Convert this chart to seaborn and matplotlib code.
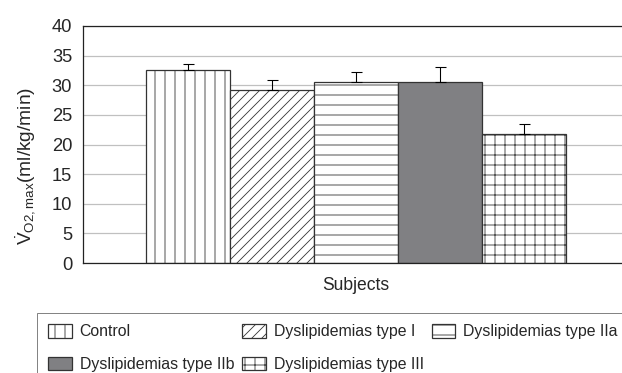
import numpy as np
import pandas as pd
import matplotlib.pyplot as plt
import seaborn as sns

# values
groups = ['Control', 'Dyslipidemias type I', 'Dyslipidemias type IIa',
          'Dyslipidemias type IIb', 'Dyslipidemias type III']
vo2_mean = [32.6, 29.2, 30.5, 30.5, 21.7]
vo2_sd = [1.0, 1.7, 1.8, 2.6, 1.7]
yticks = [0, 5, 10, 15, 20, 25, 30, 35, 40]

hatches = ['|', '//', '-', '', '+']
fills = ['white', 'white', 'white', '#808083', 'white']

df = pd.DataFrame({'Subjects': ['Subjects'] * len(groups),
                   'Group': groups, 'VO2': vo2_mean})

sns.set_style('white')
plt.rcParams['font.family'] = ['Liberation Sans', 'DejaVu Sans']
plt.rcParams['mathtext.fontset'] = 'custom'
plt.rcParams['mathtext.rm'] = 'Liberation Sans'
plt.rcParams['mathtext.it'] = 'Liberation Sans:italic'
plt.rcParams['hatch.linewidth'] = 1.0

fig = plt.figure(figsize=(622 / 60, 373 / 60), dpi=60)
ax = fig.add_axes([83 / 622, 1 - 263 / 373, 546 / 622, 237 / 373])

sns.barplot(data=df, x='Subjects', y='VO2', hue='Group', hue_order=groups,
            palette=fills, saturation=1, width=0.769, errorbar=None,
            edgecolor='#333333', linewidth=1.5, legend=False, ax=ax)

bars = [c[0] for c in ax.containers]
for bar, h in zip(bars, hatches):
    bar.set_hatch(h)
    try:
        bar.set_hatchcolor('#858585')
    except AttributeError:
        pass

# upper error bars
xs = [b.get_x() + b.get_width() / 2 for b in bars]
ax.errorbar(xs, vo2_mean, yerr=[np.zeros(len(vo2_sd)), vo2_sd], fmt='none',
            ecolor='black', elinewidth=1.3, capsize=6.6, capthick=1.3)

ax.set_xlim(-0.5, 0.5)
ax.set_ylim(0, 40)
ax.set_yticks(yticks)
ax.set_xticks([])
ax.yaxis.grid(True, color='#c0c0c0', lw=1.5)
ax.set_axisbelow(True)
ax.tick_params(axis='y', length=0, pad=13, labelsize=22)
for s in ['left', 'bottom', 'top']:
    ax.spines[s].set_color('#222222')
    ax.spines[s].set_linewidth(1.5)
ax.spines['right'].set_visible(False)

ax.set_xlabel('Subjects', fontsize=21, labelpad=17)
ax.set_ylabel(r'$\dot{\mathrm{V}}_{\mathrm{O2,max}}$(ml/kg/min)', fontsize=23)
ax.yaxis.set_label_coords(-0.082, 0.41)

# legend laid out row by row like the original
order = [0, 3, 1, 4, 2]
leg = fig.legend([bars[i] for i in order], [groups[i] for i in order], ncol=3,
                 loc='upper left', bbox_to_anchor=(37 / 622, 1 - 313 / 373),
                 fontsize=19, frameon=True, fancybox=False, edgecolor='#666666',
                 handlelength=1.5, handleheight=0.95, handletextpad=0.5,
                 columnspacing=0.5, labelspacing=1.1, borderpad=0.7,
                 borderaxespad=0)
leg.get_frame().set_linewidth(1.2)

plt.savefig('out.png', dpi=60)
